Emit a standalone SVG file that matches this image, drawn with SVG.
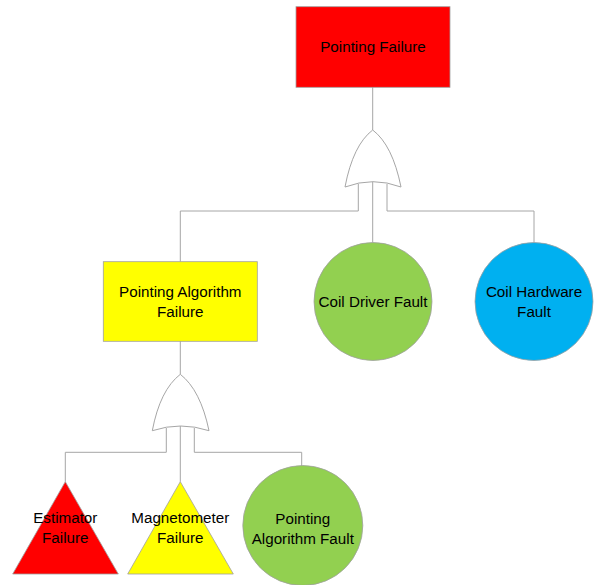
<svg xmlns="http://www.w3.org/2000/svg" width="594" height="585" viewBox="0 0 594 585">
<style>
.ln{fill:none;stroke:#a6a6a6;stroke-width:1}
.gate{fill:#ffffff;stroke:#a6a6a6;stroke-width:1}
.shp{stroke:#a0a0a0;stroke-width:0.8}
text{font-family:"Liberation Sans",Arial,sans-serif;font-size:15.2px;fill:#000;text-anchor:middle}
</style>
<rect width="594" height="585" fill="#ffffff"/>
<g id="connectors">
<path class="ln" d="M372.7,87 V130"/>
<path class="ln" d="M358.3,184 V211 H180.3 V261.7"/>
<path class="ln" d="M372.7,182 V242.3"/>
<path class="ln" d="M387,184 V211 H534 V242.3"/>
<path class="ln" d="M180.3,341 V374.3"/>
<path class="ln" d="M166.3,428 V452.3 H65.3 V481.7"/>
<path class="ln" d="M180.3,426 V481.7"/>
<path class="ln" d="M194.3,428 V452.3 H301.7 V466"/>
</g>
<g id="pointing-failure">
<rect class="shp" x="296" y="6.7" width="154" height="80.6" fill="#ff0000"/>
<text x="373" y="52">Pointing Failure</text>
</g>
<g id="or-gate-top">
<path class="gate" d="M345,187 Q353,145 372.7,130 Q392.5,145 401,187 Q373,176.4 345,187 Z"/>
</g>
<g id="pointing-algorithm-failure">
<rect class="shp" x="103.3" y="261.7" width="154" height="79.6" fill="#ffff00"/>
<text x="180.3" y="297">Pointing Algorithm</text>
<text x="180.3" y="316.5">Failure</text>
</g>
<g id="coil-driver-fault">
<circle class="shp" cx="373" cy="301.5" r="59" fill="#92d050"/>
<text x="373" y="307">Coil Driver Fault</text>
</g>
<g id="coil-hardware-fault">
<circle class="shp" cx="534" cy="301.5" r="59" fill="#00b0f0"/>
<text x="534" y="297">Coil Hardware</text>
<text x="534" y="316.5">Fault</text>
</g>
<g id="or-gate-bottom">
<path class="gate" d="M152.3,430.7 Q160,390 180.3,374.3 Q200.5,390 209,430.7 Q180.6,421.3 152.3,430.7 Z"/>
</g>
<g id="estimator-failure">
<polygon class="shp" points="65.3,481.7 118.3,574 12.7,574" fill="#ff0000"/>
<text x="65.3" y="523">Estimator</text>
<text x="65.3" y="542.5">Failure</text>
</g>
<g id="magnetometer-failure">
<polygon class="shp" points="180.3,481.7 233.3,574 127.7,574" fill="#ffff00"/>
<text x="180.3" y="523">Magnetometer</text>
<text x="180.3" y="542.5">Failure</text>
</g>
<g id="pointing-algorithm-fault">
<circle class="shp" cx="302.8" cy="525.5" r="60" fill="#92d050"/>
<text x="302.8" y="523.5">Pointing</text>
<text x="302.8" y="543.5">Algorithm Fault</text>
</g>
</svg>
